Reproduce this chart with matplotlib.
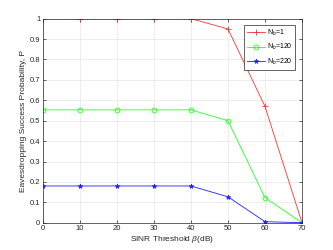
import matplotlib
matplotlib.use("Agg")
import matplotlib.pyplot as plt

plt.rcParams["font.family"] = ["Liberation Sans", "DejaVu Sans"]
plt.rcParams["mathtext.fontset"] = "custom"
plt.rcParams["mathtext.it"] = "Liberation Sans:italic"
plt.rcParams["mathtext.rm"] = "Liberation Sans"

# data
beta = [0, 10, 20, 30, 40, 50, 60, 70]
p_nb1 = [1.0, 1.0, 1.0, 1.0, 1.0, 0.95, 0.57, 0.0]
p_nb120 = [0.553, 0.553, 0.553, 0.553, 0.553, 0.50, 0.123, 0.0]
p_nb220 = [0.18, 0.18, 0.18, 0.18, 0.18, 0.127, 0.005, 0.0]
labels = ["N$_b$=1", "N$_b$=120", "N$_b$=220"]

fig = plt.figure(figsize=(3.33, 2.5), dpi=100)
ax = fig.add_axes([43 / 333, 1 - 222.7 / 250, (302 - 43) / 333, (222.7 - 18.7) / 250])

ax.plot(beta, p_nb1, "-+", color="#ff3030", lw=0.6, ms=4, mew=0.6, label=labels[0])
ax.plot(beta, p_nb120, "-o", color="#20ff20", lw=0.6, ms=3.5, mew=0.6, mfc="none", label=labels[1])
ax.plot(beta, p_nb220, "-*", color="#2020ff", lw=0.6, ms=3.5, mew=0.5, label=labels[2])

ax.set_xlim(0, 70)
ax.set_ylim(0, 1)
ax.set_xticks(range(0, 71, 10))
ax.set_yticks([i / 10 for i in range(11)])
ax.set_yticklabels(["0", "0.1", "0.2", "0.3", "0.4", "0.5", "0.6", "0.7", "0.8", "0.9", "1"])
ax.grid(True, color="#e6e6e6", lw=0.5)
ax.set_axisbelow(True)
ax.tick_params(labelsize=5.5, length=2, width=0.5, colors="#262626", direction="in", pad=2)
for s in ax.spines.values():
    s.set_linewidth(0.5)
    s.set_color("#262626")
ax.tick_params(top=True, right=True)

ax.set_xlabel(r"SINR Threshold $\beta$(dB)", fontsize=6, color="#262626", labelpad=1)
ax.set_ylabel("Eavesdropping Success Probability, P", fontsize=6, color="#262626", labelpad=2)

leg = ax.legend(loc="upper right", fontsize=5, frameon=True, fancybox=False,
                edgecolor="#262626", framealpha=1, handlelength=2.6,
                handletextpad=0.3, borderpad=0.4, labelspacing=0.6,
                borderaxespad=0, bbox_to_anchor=(0.973, 0.969))
leg.get_frame().set_linewidth(0.5)

fig.savefig("out.png", dpi=100)
